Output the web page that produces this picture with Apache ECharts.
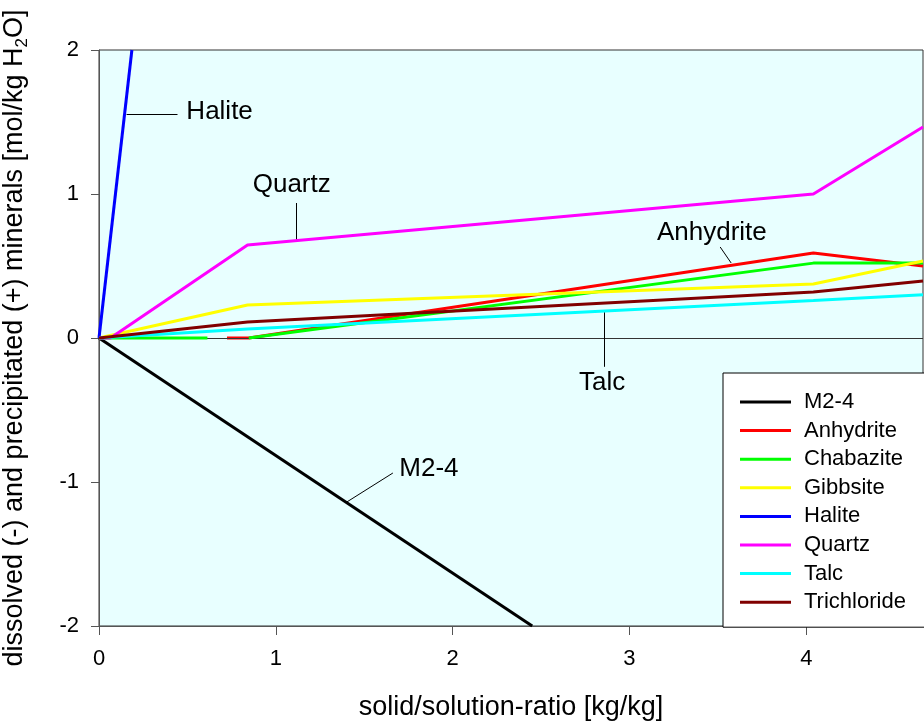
<!DOCTYPE html>
<html>
<head>
<meta charset="utf-8">
<script src="https://cdn.jsdelivr.net/npm/echarts@6/dist/echarts.min.js"></script>
<style>
html,body{margin:0;padding:0;background:#fff;}
#chart{width:924px;height:724px;}
</style>
</head>
<body>
<div id="chart"></div>
<script>
// ---- data ----
const seriesNames = ['M2-4','Anhydrite','Chabazite','Gibbsite','Halite','Quartz','Talc','Trichloride'];
const seriesColors = ['#000000','#ff0000','#00ff00','#ffff00','#0000ff','#ff00ff','#00ffff','#800000'];
const m24 = [[0,0],[2.45,-2]];
const anhydrite = [[0.724,0],[0.847,0],[4.04,0.59],[4.66,0.5]];
const chabazite = [[0,0],[0.613,0],[0.7,null],[0.847,0],[4.04,0.52],[4.66,0.52]];
const gibbsite = [[0,0],[0.84,0.229],[4.04,0.375],[4.66,0.535]];
const halite = [[0,0],[0.186,2]];
const quartz = [[0,0],[0.065,0],[0.84,0.646],[4.04,1.0],[4.66,1.465]];
const talc = [[0,0],[0.84,0.063],[4.04,0.26],[4.66,0.30]];
const trichloride = [[0,0],[0.84,0.111],[4.04,0.32],[4.66,0.396]];
const seriesData = [m24, anhydrite, chabazite, gibbsite, halite, quartz, talc, trichloride];
const xTicks = [0,1,2,3,4];
const yTicks = [-2,-1,0,1,2];
const annotLabels = ['Halite','Quartz','Anhydrite','Talc','M2-4'];

const FONT = "'Liberation Sans', Arial, Helvetica, sans-serif";
const chart = echarts.init(document.getElementById('chart'));

const series = seriesNames.map((n, i) => ({
  name: n,
  type: 'line',
  data: seriesData[i],
  symbol: 'none',
  connectNulls: false,
  lineStyle: { color: seriesColors[i], width: 3 },
  itemStyle: { color: seriesColors[i] },
  clip: true,
  z: 3 + i
}));

// zero line
series[0].markLine = {
  silent: true, symbol: ['none','none'], label: { show: false },
  lineStyle: { color: '#333', width: 1, type: 'solid' },
  data: [{ yAxis: 0 }]
};

// annotations
series.push({
  name: '__annot', type: 'line', data: [], z: 20,
  markLine: {
    silent: true, symbol: ['none','none'], label: { show: false },
    lineStyle: { color: '#000', width: 1, type: 'solid' },
    data: [
      [{ coord: [0.156, 1.556] }, { coord: [0.444, 1.556] }],
      [{ coord: [1.113, 0.675] }, { coord: [1.113, 0.9375] }],
      [{ coord: [3.513, 0.632] }, { coord: [3.575, 0.521] }],
      [{ coord: [2.857, 0.18] }, { coord: [2.857, -0.2] }],
      [{ coord: [1.40, -1.14] }, { coord: [1.662, -0.9375] }]
    ]
  },
  markPoint: {
    silent: true, symbol: 'rect', symbolSize: 1,
    itemStyle: { color: 'rgba(0,0,0,0)' },
    label: { show: true, position: 'inside', formatter: '{b}', color: '#000', fontSize: 26, fontFamily: FONT },
    data: [
      { name: annotLabels[0], coord: [0.682, 1.569] },
      { name: annotLabels[1], coord: [1.09, 1.0625] },
      { name: annotLabels[2], coord: [3.466, 0.729] },
      { name: annotLabels[3], coord: [2.845, -0.3125] },
      { name: annotLabels[4], coord: [1.866, -0.91] }
    ]
  }
});

const option = {
  animation: false,
  backgroundColor: '#ffffff',
  textStyle: { fontFamily: FONT },
  grid: {
    left: 99, right: 1, top: 50, bottom: 98,
    containLabel: false, outerBoundsMode: 'none',
    show: true, backgroundColor: '#e8ffff', borderColor: '#333', borderWidth: 1
  },
  xAxis: {
    type: 'value', min: 0, max: 4.66, interval: 1,
    name: 'solid/solution-ratio [kg/kg]', nameLocation: 'middle', nameGap: 68,
    nameTextStyle: { fontSize: 27, color: '#000', fontFamily: FONT },
    axisLine: { show: true, onZero: false, lineStyle: { color: '#555', width: 1 } },
    axisTick: { show: true, inside: false, length: 9, lineStyle: { color: '#555' } },
    axisLabel: {
      margin: 22, fontSize: 22, color: '#000', fontFamily: FONT, showMaxLabel: false,
      formatter: v => (xTicks.indexOf(v) >= 0 ? String(v) : '')
    },
    splitLine: { show: false }
  },
  yAxis: {
    type: 'value', min: -2, max: 2, interval: 1,
    name: '{a|dissolved (-) and precipitated (+) minerals [mol/kg H}{s|2}{a|O]}',
    nameLocation: 'middle', nameGap: 68, nameRotate: 90,
    nameTextStyle: {
      color: '#000', fontFamily: FONT, fontSize: 27,
      rich: {
        a: { fontSize: 27, lineHeight: 32, color: '#000', fontFamily: FONT },
        s: { fontSize: 17, lineHeight: 16, verticalAlign: 'bottom', color: '#000', fontFamily: FONT }
      }
    },
    axisLine: { show: true, onZero: false, lineStyle: { color: '#555', width: 1 } },
    axisTick: { show: true, inside: false, length: 8, lineStyle: { color: '#555' } },
    axisLabel: {
      margin: 20, fontSize: 22, color: '#000', fontFamily: FONT,
      formatter: v => (yTicks.indexOf(v) >= 0 ? String(v) : '')
    },
    splitLine: { show: false }
  },
  legend: {
    data: seriesNames,
    orient: 'vertical',
    left: 723, top: 373,
    padding: [18, 40, 14, 17],
    itemWidth: 51, itemHeight: 3, itemGap: 6.6,
    icon: 'rect',
    backgroundColor: '#ffffff', borderColor: '#000', borderWidth: 1,
    textStyle: { fontSize: 22, lineHeight: 22, color: '#000', fontFamily: FONT, padding: [0, 0, 0, 8] },
    selectedMode: false
  },
  series: series
};
chart.setOption(option);
</script>
</body>
</html>
